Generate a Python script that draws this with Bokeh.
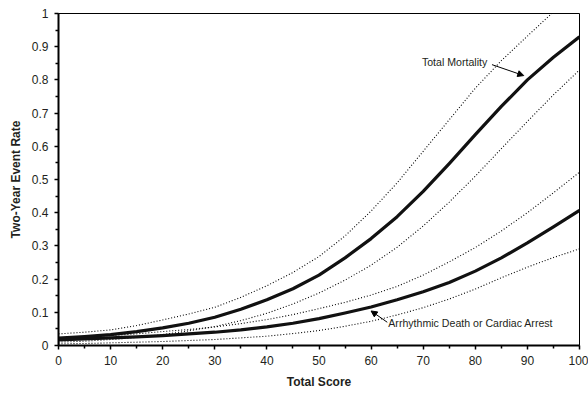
from bokeh.plotting import figure
from bokeh.models import Range1d, FixedTicker, Label, Arrow, NormalHead
from bokeh.embed import file_html
from bokeh.resources import INLINE

# Total score (x)
score = [0, 5, 10, 15, 20, 25, 30, 35, 40, 45, 50, 55, 60, 65, 70, 75, 80, 85, 90, 95, 100]

# Total mortality: estimate and 95% limits
total_mortality = [0.022, 0.027, 0.033, 0.042, 0.053, 0.067, 0.085, 0.109, 0.138, 0.171, 0.212,
                   0.264, 0.322, 0.388, 0.464, 0.548, 0.635, 0.720, 0.800, 0.868, 0.930]
total_mortality_upper = [0.035, 0.040, 0.047, 0.060, 0.077, 0.095, 0.115, 0.145, 0.180, 0.220, 0.268,
                         0.330, 0.405, 0.490, 0.585, 0.680, 0.775, 0.858, 0.932, 1.005, 1.070]
total_mortality_lower = [0.010, 0.013, 0.018, 0.024, 0.033, 0.044, 0.057, 0.075, 0.097, 0.125, 0.158,
                         0.197, 0.242, 0.296, 0.360, 0.432, 0.510, 0.593, 0.675, 0.755, 0.830]

# Arrhythmic death or cardiac arrest: estimate and 95% limits
arrhythmic = [0.017, 0.020, 0.023, 0.026, 0.030, 0.035, 0.040, 0.047, 0.056, 0.067, 0.081,
              0.098, 0.116, 0.138, 0.162, 0.190, 0.224, 0.264, 0.309, 0.357, 0.407]
arrhythmic_upper = [0.022, 0.026, 0.030, 0.035, 0.042, 0.048, 0.056, 0.066, 0.078, 0.093, 0.111,
                    0.130, 0.152, 0.178, 0.212, 0.252, 0.295, 0.345, 0.400, 0.460, 0.522]
arrhythmic_lower = [0.005, 0.006, 0.008, 0.010, 0.012, 0.015, 0.018, 0.023, 0.028, 0.036, 0.045,
                    0.058, 0.073, 0.092, 0.114, 0.140, 0.170, 0.204, 0.236, 0.265, 0.291]

x_ticks = [0, 10, 20, 30, 40, 50, 60, 70, 80, 90, 100]
x_minor_ticks = [5, 15, 25, 35, 45, 55, 65, 75, 85, 95]
y_ticks = [0, 0.1, 0.2, 0.3, 0.4, 0.5, 0.6, 0.7, 0.8, 0.9, 1]
y_tick_labels = ["0", "0.1", "0.2", "0.3", "0.4", "0.5", "0.6", "0.7", "0.8", "0.9", "1"]
y_minor_ticks = [0.05, 0.15, 0.25, 0.35, 0.45, 0.55, 0.65, 0.75, 0.85, 0.95]

FONT = "Liberation Sans"
TXT = "#231f20"

p = figure(width=588, height=393, output_backend="svg", toolbar_location=None,
           x_range=Range1d(0, 100), y_range=Range1d(0, 1),
           min_border_left=58, min_border_right=9, min_border_top=13, min_border_bottom=48)
p.background_fill_color = "white"
p.border_fill_color = "white"
p.grid.visible = False
p.outline_line_color = "black"
p.outline_line_width = 1
p.outline_line_alpha = 1

p.xaxis.ticker = FixedTicker(ticks=x_ticks, minor_ticks=x_minor_ticks)
p.yaxis.ticker = FixedTicker(ticks=y_ticks, minor_ticks=y_minor_ticks)
p.yaxis.major_label_overrides = {t: l for t, l in zip(y_ticks, y_tick_labels)}
p.xaxis.major_label_overrides = {t: str(t) for t in x_ticks}

for ax in (p.xaxis, p.yaxis):
    ax.axis_line_width = 2
    ax.axis_line_color = "black"
    ax.major_tick_out = 4
    ax.major_tick_in = 0
    ax.minor_tick_out = 3
    ax.minor_tick_in = 0
    ax.major_tick_line_width = 1.5
    ax.minor_tick_line_width = 1.5
    ax.major_tick_line_color = "black"
    ax.minor_tick_line_color = "black"
    ax.major_label_text_font = FONT
    ax.major_label_text_font_size = "12px"
    ax.major_label_text_color = TXT
    ax.axis_label_text_font = FONT
    ax.axis_label_text_font_size = "12px"
    ax.axis_label_text_font_style = "bold"
    ax.axis_label_text_color = TXT
    ax.major_label_standoff = 6

p.xaxis.axis_label = "Total Score"
p.yaxis.axis_label = "Two-Year Event Rate"
p.xaxis.axis_label_standoff = 7
p.yaxis.axis_label_standoff = 6

for ys in (total_mortality_upper, total_mortality_lower, arrhythmic_upper, arrhythmic_lower):
    p.line(score, ys, line_color="black", line_width=1.1, line_dash="1 2")

p.line(score, total_mortality, line_color="#111111", line_width=3.2, line_join="round")
p.line(score, arrhythmic, line_color="#111111", line_width=3.2, line_join="round")

p.add_layout(Label(x=82.3, y=0.853, text="Total Mortality", text_align="right",
                   text_baseline="middle", text_font=FONT, text_font_size="10.6px",
                   text_color=TXT))
p.add_layout(Arrow(x_start=83.2, y_start=0.846, x_end=89.3, y_end=0.813,
                   line_color="black", line_width=1,
                   end=NormalHead(size=6, fill_color="black", line_color="black")))

p.add_layout(Label(x=63.3, y=0.067, text="Arrhythmic Death or Cardiac Arrest", text_align="left",
                   text_baseline="middle", text_font=FONT, text_font_size="10.6px",
                   text_color=TXT))
p.add_layout(Arrow(x_start=63.1, y_start=0.070, x_end=60.0, y_end=0.104,
                   line_color="black", line_width=1,
                   end=NormalHead(size=6, fill_color="black", line_color="black")))

open("out.html", "w").write(file_html(p, INLINE))
